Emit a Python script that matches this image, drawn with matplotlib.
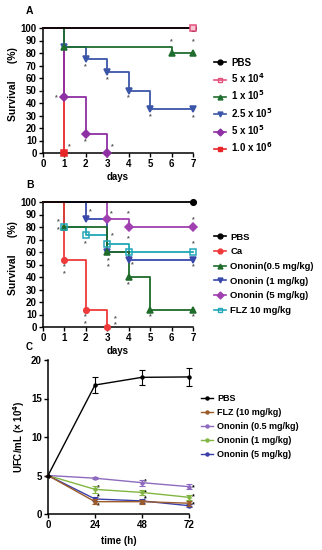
import matplotlib
matplotlib.use("Agg")
import matplotlib.pyplot as plt

plt.rcParams['font.family'] = ['Liberation Sans', 'DejaVu Sans']
plt.rcParams['font.weight'] = 'bold'
plt.rcParams['axes.linewidth'] = 1.1

# Panel A: survival by inoculum
a_labels = ['PBS', '5 x 10$^4$', '1 x 10$^5$', '2.5 x 10$^5$', '5 x 10$^5$', '1.0 x 10$^6$']
a_days = [[0, 7], [0, 7], [0, 1, 6, 7], [0, 1, 2, 3, 4, 5, 7], [0, 1, 2, 3], [0, 1]]
a_surv = [[100, 100], [100, 100], [100, 85, 80, 80], [100, 85, 75, 65, 50, 35, 35],
          [100, 45, 15, 0], [100, 0]]
a_colors = ['black', '#e4507e', '#1f6e30', '#3b55a8', '#8e2fa3', '#e8262a']
a_markers = ['o', 's', '^', 'v', 'D', 's']
a_open = [False, True, False, False, False, False]
a_stars_x = [6, 7, 2, 3, 4, 5, 7, 0.64, 2, 3.25, 1.23]
a_stars_y = [89, 89, 69, 59, 44, 29, 28, 44, 9, 5, 5]

# Panel B: survival by treatment
b_labels = ['PBS', 'Ca', 'Ononin(0.5 mg/kg)', 'Ononin (1 mg/kg)', 'Ononin (5 mg/kg)', 'FLZ 10 mg/kg']
b_days = [[0, 7], [0, 1, 2, 3], [0, 1, 3, 4, 5, 7], [0, 2, 3, 4, 7], [0, 3, 4, 7], [0, 1, 2, 3, 4, 7]]
b_surv = [[100, 100], [100, 53.3, 13.3, 0], [100, 80, 60, 40, 13.3, 13.3],
          [100, 86.7, 60, 53.3, 53.3], [100, 86.7, 80, 80], [100, 80, 73.3, 66.7, 60, 60]]
b_colors = ['black', '#ee3a3a', '#1e6b2a', '#3949ab', '#a040b0', '#22a8b8']
b_markers = ['o', 'o', '^', 'v', 'D', 's']
b_open = [False, False, False, False, False, True]
b_stars_x = [2.22, 3.17, 3.98, 0.72, 0.72, 7, 7, 1.99, 3.25, 3.98, 3.05, 3.05, 4.18, 7,
             0.98, 0.98, 3.98, 1.99, 1.99, 3.36, 3.36, 4.99, 7]
b_stars_y = [92, 91, 91, 84, 78, 86, 67, 67, 73, 71, 53, 48, 50, 48,
             48, 43, 34, 8, 3, 7, 2, 8, 8]

# Panel C: fungal burden
c_time = [0, 24, 48, 72]
c_labels = ['PBS', 'FLZ (10 mg/kg)', 'Ononin (0.5 mg/kg)', 'Ononin (1 mg/kg)', 'Ononin (5 mg/kg)']
c_vals = [[5, 16.75, 17.75, 17.8], [5, 1.6, 1.6, 1.4], [5, 4.65, 4.07, 3.55],
          [5, 3.2, 2.8, 2.17], [5, 1.95, 1.7, 1.08]]
c_err = [[0, 1.05, 0.98, 1.15], [0, 0.3, 0.25, 0.3], [0, 0.15, 0.4, 0.35],
         [0, 0.45, 0.35, 0.3], [0, 0.3, 0.25, 0.2]]
c_colors = ['black', '#9c5b2a', '#8e6bbf', '#82b541', '#3a3fa8']
c_stars_x = [25.5, 25.5, 25.5, 49.8, 49.8, 49.8, 74.2, 74.2, 74.2]
c_stars_y = [3.4, 2.25, 1.05, 4.2, 2.8, 1.95, 3.4, 2.2, 1.25]

fig = plt.figure(figsize=(3.22, 5.5), dpi=100)
W, H = 322, 550


def px_axes(x0, x1, ytop, ybot):
    return fig.add_axes([x0 / W, 1 - ybot / H, (x1 - x0) / W, (ybot - ytop) / H])


def style(ax):
    ax.spines['top'].set_visible(False)
    ax.spines['right'].set_visible(False)
    ax.tick_params(labelsize=7, length=3, width=1, pad=1.5)
    for t in ax.get_xticklabels() + ax.get_yticklabels():
        t.set_fontweight('bold')


def survival(ax, days, surv, labels, colors, markers, opens, sx, sy):
    n = len(days)
    for i, (d, s, lab, c, m, op) in enumerate(zip(days, surv, labels, colors, markers, opens)):
        z = 3 + (n - i) * 0.1
        ax.step(d, s, where='post', color=c, lw=1.3, clip_on=False, zorder=z)
        ax.plot(d[1:], s[1:], ls='none', marker=m, color=c, ms=4, mew=1.1,
                mfc='#f7c6d6' if op and c == '#e4507e' else ('none' if op else c),
                clip_on=False, zorder=z + (2 if op else 1))
        ax.plot([], [], color=c, marker=m, ms=3.5, mfc='none' if op else c, mew=1.0,
                lw=1.2, label=lab)
    for x, y in zip(sx, sy):
        ax.text(x, y, '*', color='#555555', fontsize=5, ha='center', va='center')
    ax.set_xlim(0, 7)
    ax.set_ylim(0, 100)
    ax.set_xticks(range(8))
    ax.set_yticks(range(0, 101, 10))
    ax.set_xlabel('days', fontsize=7, fontweight='bold', labelpad=2)
    ax.set_ylabel('Survival      (%)', fontsize=7.5, fontweight='bold')
    ax.yaxis.set_label_coords(-0.165, 0.55)
    style(ax)


axA = px_axes(43, 193, 28, 153)
survival(axA, a_days, a_surv, a_labels, a_colors, a_markers, a_open, a_stars_x, a_stars_y)
axA.legend(loc='upper left', bbox_to_anchor=(205 / W, 1 - 49 / H), bbox_transform=fig.transFigure,
           frameon=False, handlelength=1.3, labelspacing=0.36, handletextpad=0.5,
           prop={'weight': 'bold', 'size': 7})
fig.text(26 / W, 1 - 11 / H, 'A', fontsize=7.5, fontweight='bold', va='center')

axB = px_axes(43, 193, 202, 327)
survival(axB, b_days, b_surv, b_labels, b_colors, b_markers, b_open, b_stars_x, b_stars_y)
axB.legend(loc='upper left', bbox_to_anchor=(205 / W, 1 - 224 / H), bbox_transform=fig.transFigure,
           frameon=False, handlelength=1.3, labelspacing=0.6, handletextpad=0.5,
           prop={'weight': 'bold', 'size': 6.8})
fig.text(26 / W, 1 - 185 / H, 'B', fontsize=7.5, fontweight='bold', va='center')

axC = px_axes(48, 189, 360, 514)
n = len(c_vals)
for i, (v, e, lab, c) in enumerate(zip(c_vals, c_err, c_labels, c_colors)):
    axC.errorbar(c_time, v, yerr=e, color=c, lw=1.0, marker='o', ms=2.2, capsize=2,
                 elinewidth=0.8, capthick=0.8, clip_on=False, zorder=3 + (n - i) * 0.1)
    axC.plot([], [], color=c, lw=1.0, marker='o', ms=2.2, label=lab)
for x, y in zip(c_stars_x, c_stars_y):
    axC.text(x, y, '*', color='black', fontsize=5, ha='center', va='center')
axC.set_xlim(0, 72)
axC.set_ylim(0, 20)
axC.set_xticks(c_time)
axC.set_yticks([0, 5, 10, 15, 20])
axC.set_xlabel('time (h)', fontsize=7, fontweight='bold', labelpad=4)
axC.set_ylabel('UFC/mL (× 10$^{4}$)', fontsize=7, fontweight='bold', labelpad=3)
style(axC)
axC.legend(loc='upper left', bbox_to_anchor=(193 / W, 1 - 386 / H), bbox_transform=fig.transFigure,
           frameon=False, handlelength=1.3, labelspacing=0.55, handletextpad=0.5,
           prop={'weight': 'bold', 'size': 6.5})
fig.text(26 / W, 1 - 347 / H, 'C', fontsize=7, fontweight='bold', va='center')

fig.savefig('out.png', dpi=100)
